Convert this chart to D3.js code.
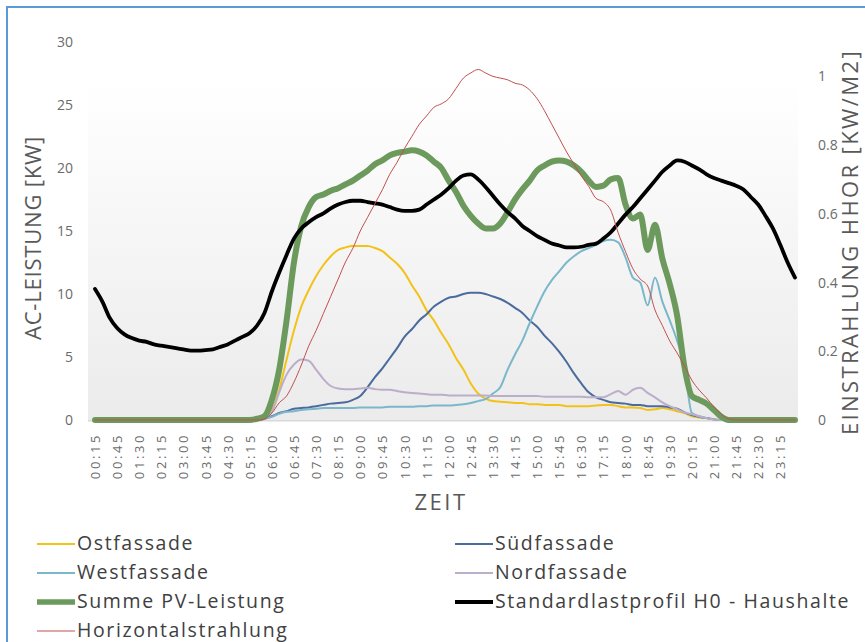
<!DOCTYPE html>
<html><head><meta charset="utf-8">
<script src="https://cdn.jsdelivr.net/npm/d3@7/dist/d3.min.js"></script>
<style>
body{margin:0;background:#fff;}
svg{display:block;font-family:"Open Sans",sans-serif;}
</style>
</head><body>
<svg id="c" width="865" height="642"></svg>
<script>
// 15-minute categories (96 points)
const timeCategories = [];
for (let h = 0; h < 24; h++) for (let m = 0; m < 60; m += 15)
  timeCategories.push(String(h).padStart(2,"0") + ":" + String(m).padStart(2,"0"));

const tickLabels = ["00:15","00:45","01:30","02:15","03:00","03:45","04:30","05:15","06:00","06:45","07:30","08:15","09:00","09:45","10:30","11:15","12:00","12:45","13:30","14:15","15:00","15:45","16:30","17:15","18:00","18:45","19:30","20:15","21:00","21:45","22:30","23:15"];
const leftTicks = [0,5,10,15,20,25,30];
const rightTicks = [0,0.2,0.4,0.6,0.8,1];

const ostfassade = [0,0,0,0,0,0,0,0,0,0,0,0,0,0,0,0,0,0,0,0,0,0,0,0.15,0.8,2.4,4.8,7.1,9.0,10.3,11.4,12.3,13.0,13.5,13.7,13.8,13.8,13.8,13.65,13.4,12.9,12.4,11.7,10.7,9.8,8.7,7.9,6.9,6.0,4.9,4.0,2.9,2.1,1.7,1.5,1.45,1.4,1.35,1.35,1.25,1.25,1.2,1.2,1.2,1.1,1.1,1.1,1.1,1.15,1.2,1.2,1.1,1.0,1.0,0.95,0.8,0.85,0.95,0.85,0.7,0.55,0.3,0.2,0.15,0.05,0,0,0,0,0,0,0,0,0,0,0];
const suedfassade = [0,0,0,0,0,0,0,0,0,0,0,0,0,0,0,0,0,0,0,0,0,0,0,0.1,0.3,0.55,0.7,0.9,0.95,1.0,1.1,1.2,1.3,1.35,1.4,1.6,1.9,2.6,3.4,4.1,4.9,5.7,6.6,7.2,7.9,8.4,9.0,9.4,9.7,9.8,10.0,10.1,10.1,10.0,9.8,9.6,9.3,8.9,8.5,7.9,7.4,6.7,6.1,5.4,4.6,3.7,2.9,2.2,1.8,1.6,1.4,1.35,1.3,1.2,1.2,1.1,1.1,1.1,1.0,0.9,0.6,0.4,0.25,0.15,0.05,0,0,0,0,0,0,0,0,0,0,0];
const westfassade = [0,0,0,0,0,0,0,0,0,0,0,0,0,0,0,0,0,0,0,0,0,0,0,0.1,0.25,0.5,0.65,0.7,0.8,0.85,0.9,0.95,0.95,0.95,0.95,0.95,1.0,1.0,1.0,1.0,1.05,1.05,1.05,1.05,1.1,1.1,1.15,1.15,1.15,1.2,1.25,1.35,1.5,1.65,2.1,2.6,4.0,5.2,6.3,7.7,9.0,10.2,11.1,11.8,12.5,13.0,13.4,13.65,13.9,14.2,14.3,14.1,12.9,11.3,10.9,9.1,11.3,9.4,7.9,6.3,4.2,0.55,0.3,0.15,0.05,0,0,0,0,0,0,0,0,0,0,0];
const nordfassade = [0,0,0,0,0,0,0,0,0,0,0,0,0,0,0,0,0,0,0,0,0,0,0,0.1,0.65,2.2,3.6,4.4,4.8,4.7,4.0,3.25,2.7,2.5,2.45,2.45,2.5,2.55,2.45,2.4,2.4,2.3,2.2,2.15,2.1,2.05,2.0,2.0,1.95,1.95,1.95,1.95,1.95,1.95,1.9,1.9,1.9,1.9,1.9,1.9,1.9,1.85,1.85,1.85,1.85,1.85,1.85,1.8,1.8,1.8,2.05,2.3,2.0,2.4,2.55,2.15,1.8,1.4,1.1,0.85,0.6,0.45,0.3,0.15,0.05,0,0,0,0,0,0,0,0,0,0,0];
const summePV = [0,0,0,0,0,0,0,0,0,0,0,0,0,0,0,0,0,0,0,0,0,0,0.1,0.3,1.6,4.0,7.9,12.5,15.4,16.9,17.7,17.9,18.2,18.4,18.7,19.0,19.4,19.8,20.3,20.6,21.0,21.2,21.3,21.4,21.3,21.0,20.5,20.0,19.0,18.1,17.0,16.2,15.6,15.2,15.2,15.6,16.5,17.5,18.3,19.0,19.8,20.2,20.5,20.6,20.5,20.2,19.7,19.0,18.5,18.6,19.1,19.2,17.1,16.0,16.3,13.5,15.5,12.8,10.8,8.3,4.2,1.9,1.6,1.3,0.8,0.25,0,0,0,0,0,0,0,0,0,0];
const standardlast = [10.4,9.4,8.1,7.3,6.8,6.5,6.3,6.2,6.0,5.9,5.8,5.7,5.6,5.5,5.5,5.55,5.6,5.8,6.0,6.3,6.6,6.9,7.5,8.5,10.2,11.7,13.1,14.4,15.2,15.7,16.1,16.4,16.8,17.1,17.3,17.4,17.4,17.3,17.2,17.1,16.9,16.7,16.6,16.6,16.7,17.1,17.5,17.9,18.4,19.0,19.4,19.5,19.1,18.5,17.8,17.1,16.5,16.0,15.4,15.0,14.6,14.3,14.0,13.85,13.7,13.7,13.75,13.9,14.0,14.4,14.9,15.6,16.3,16.9,17.6,18.3,19.0,19.7,20.2,20.6,20.5,20.2,19.9,19.5,19.2,19.0,18.8,18.6,18.3,17.7,17.1,16.2,15.2,13.9,12.5,11.3];
const horizontalstrahlung = [0,0,0,0,0,0,0,0,0,0,0,0,0,0,0,0,0,0,0,0,0,0,0,0.003,0.02,0.05,0.07,0.11,0.16,0.215,0.26,0.31,0.36,0.41,0.46,0.50,0.55,0.59,0.63,0.67,0.715,0.75,0.79,0.825,0.86,0.885,0.91,0.92,0.935,0.965,0.995,1.01,1.02,1.01,1.0,0.995,0.99,0.98,0.975,0.96,0.935,0.9,0.86,0.82,0.78,0.745,0.71,0.68,0.645,0.635,0.61,0.545,0.49,0.44,0.41,0.39,0.32,0.275,0.23,0.195,0.157,0.116,0.087,0.064,0.038,0.017,0.003,0,0,0,0,0,0,0,0,0];

const series = [
  {name:"Ostfassade", values:ostfassade, axis:"L", color:"#f3c218", width:2, legendWidth:1.8},
  {name:"Südfassade", values:suedfassade, axis:"L", color:"#4a6b9c", width:2, legendWidth:1.8},
  {name:"Westfassade", values:westfassade, axis:"L", color:"#7bb7cb", width:2, legendWidth:1.8},
  {name:"Nordfassade", values:nordfassade, axis:"L", color:"#bcadcb", width:2, legendWidth:1.8},
  {name:"Summe PV-Leistung", values:summePV, axis:"L", color:"#6b9a5c", width:6, legendWidth:5.5},
  {name:"Standardlastprofil H0 - Haushalte", values:standardlast, axis:"L", color:"#000000", width:3.8, legendWidth:3.8},
  {name:"Horizontalstrahlung", values:horizontalstrahlung, axis:"R", color:"#c0504d", width:1, legendWidth:1.2}
];

const svg = d3.select("#c");
const W = 865, H = 642;
const plot = {left:88, right:798, top:42, bottom:420};

// frame
svg.append("line").attr("x1",7).attr("y1",6).attr("x2",7).attr("y2",H).attr("stroke","#5b9bd5").attr("stroke-width",2);
svg.append("line").attr("x1",6).attr("y1",7).attr("x2",W).attr("y2",7).attr("stroke","#5b9bd5").attr("stroke-width",2);

// plot background gradient
const defs = svg.append("defs");
const grad = defs.append("linearGradient").attr("id","bg").attr("x1",0).attr("y1",0).attr("x2",0).attr("y2",1);
grad.append("stop").attr("offset","0%").attr("stop-color","#ffffff");
grad.append("stop").attr("offset","10%").attr("stop-color","#ffffff");
grad.append("stop").attr("offset","100%").attr("stop-color","#ebebeb");
svg.append("rect").attr("x",plot.left).attr("y",plot.top).attr("width",plot.right-plot.left).attr("height",plot.bottom-plot.top+2).attr("fill","url(#bg)");

const x = d3.scalePoint().domain(d3.range(timeCategories.length)).range([95,795]);
const yL = d3.scaleLinear().domain([0,30]).range([plot.bottom, plot.top]);
const yR = d3.scaleLinear().domain([0,1.1]).range([plot.bottom, plot.top]);

// baseline
svg.append("line").attr("x1",plot.left).attr("x2",plot.right).attr("y1",plot.bottom+0.5).attr("y2",plot.bottom+0.5).attr("stroke","#d9d9d9").attr("stroke-width",1);

// axes
const gL = svg.append("g").attr("transform",`translate(${plot.left},0)`)
  .call(d3.axisLeft(yL).tickValues(leftTicks).tickSize(0).tickPadding(15));
gL.select(".domain").remove();
gL.selectAll("text").attr("fill","#6b6b6b").style("font-size","14px").style("font-family","'Open Sans',sans-serif");

const gR = svg.append("g").attr("transform",`translate(${plot.right},0)`)
  .call(d3.axisRight(yR).tickValues(rightTicks).tickSize(0).tickPadding(20).tickFormat(d3.format("~g")));
gR.select(".domain").remove();
gR.selectAll("text").attr("fill","#6b6b6b").style("font-size","14px").style("font-family","'Open Sans',sans-serif");

const gB = svg.append("g").attr("transform",`translate(0,${plot.bottom})`)
  .call(d3.axisBottom(x).tickValues(d3.range(0,timeCategories.length,3)).tickSize(0).tickFormat((d,i)=>tickLabels[i]));
gB.select(".domain").remove();
gB.selectAll("text")
  .attr("x",-13).attr("y",0).attr("dy","0.35em")
  .attr("transform","rotate(-90)")
  .style("text-anchor","end")
  .attr("fill","#6b6b6b").style("font-size","13px").style("letter-spacing","2.6px").style("font-family","'Open Sans',sans-serif");

// axis titles
svg.append("text").attr("transform","translate(41,238) rotate(-90)").attr("text-anchor","middle")
  .attr("fill","#595959").style("font-size","22px").style("letter-spacing","0.8px").text("AC-LEISTUNG [KW]");
svg.append("text").attr("transform","translate(858,242) rotate(-90)").attr("text-anchor","middle")
  .attr("fill","#595959").style("font-size","22px").style("letter-spacing","2.4px").text("EINSTRAHLUNG HHOR [KW/M2]");
svg.append("text").attr("x",441).attr("y",510).attr("text-anchor","middle")
  .attr("fill","#595959").style("font-size","22px").style("letter-spacing","2.5px").text("ZEIT");

// lines
series.forEach(s => {
  const y = s.axis === "L" ? yL : yR;
  const line = d3.line().x((d,i)=>x(i)).y(d=>y(d)).curve(d3.curveMonotoneX);
  svg.append("path").datum(s.values).attr("d",line).attr("fill","none")
    .attr("stroke",s.color).attr("stroke-width",s.width)
    .attr("stroke-linejoin","round").attr("stroke-linecap","round");
});

// legend
const legendOrder = ["Ostfassade","Südfassade","Westfassade","Nordfassade","Summe PV-Leistung","Standardlastprofil H0 - Haushalte","Horizontalstrahlung"];
legendOrder.forEach((name,k) => {
  const s = series.find(d=>d.name===name);
  const col = k % 2, row = Math.floor(k/2);
  const lx = col === 0 ? 37 : 455;
  const ly = 544 + row*29;
  const g = svg.append("g").attr("transform",`translate(${lx},${ly})`);
  g.append("line").attr("x1",0).attr("x2",38).attr("y1",0).attr("y2",0)
    .attr("stroke",s.color).attr("stroke-width",s.legendWidth);
  g.append("text").attr("x",40).attr("y",0).attr("dy","0.33em")
    .attr("fill","#404040").style("font-size","19.5px").style("letter-spacing","1.6px").text(name);
});
</script>
</body></html>
